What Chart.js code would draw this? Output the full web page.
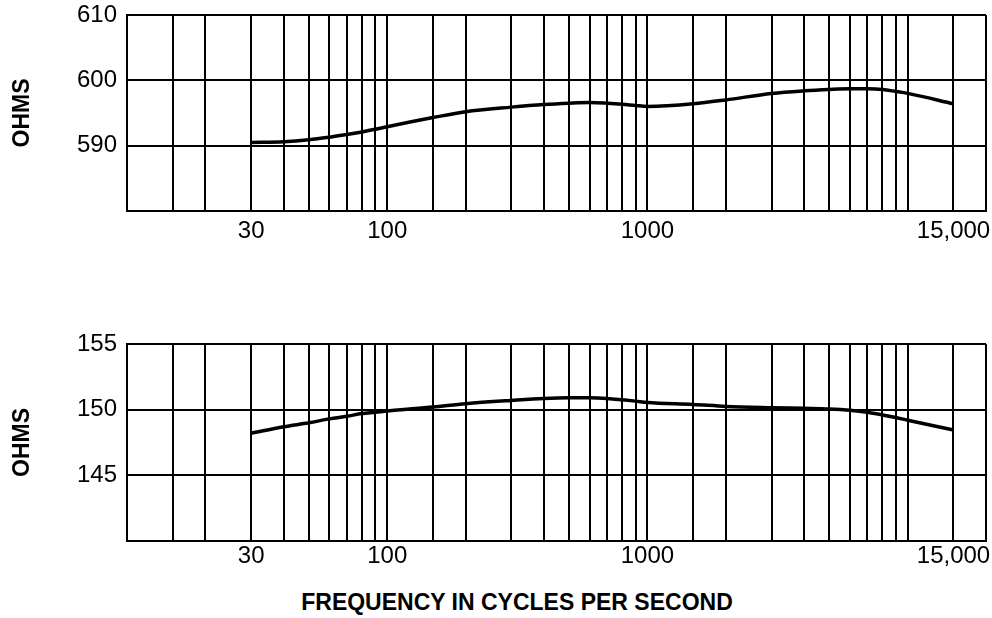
<!DOCTYPE html>
<html>
<head>
<meta charset="utf-8">
<title>Impedance vs frequency</title>
<script src="https://cdn.jsdelivr.net/npm/chart.js@4.4.1/dist/chart.umd.min.js"></script>
<style>
    html, body { margin: 0; padding: 0; background: #fff; }
    body { width: 992px; height: 618px; position: relative; overflow: hidden; }
    canvas { position: absolute; left: 0; }
    #topChart { top: -10px; }
    #bottomChart { top: 300px; }
    #xTitle {
        position: absolute; left: 217px; width: 600px; top: 590px;
        text-align: center; white-space: nowrap;
        font: bold 23px "Liberation Sans", Arial, sans-serif; line-height: 24px;
        color: #000;
    }
</style>
</head>
<body>
<canvas id="topChart" width="992" height="260"></canvas>
<canvas id="bottomChart" width="992" height="280"></canvas>
<div id="xTitle">FREQUENCY IN CYCLES PER SECOND</div>
<script>
// measured frequencies (cycles per second)
const freqs = [30, 40, 50, 60, 70, 80, 90, 100, 150, 200, 300, 400, 500, 600, 700, 800, 900,
               1000, 1500, 2000, 3000, 4000, 5000, 6000, 7000, 8000, 9000, 10000, 15000];

// 600 ohm winding
const ohms600 = [590.5, 590.6, 590.9, 591.3, 591.7, 592.1, 592.5, 592.9, 594.3, 595.2, 595.9, 596.3, 596.5, 596.6, 596.5, 596.35, 596.15,
                 596.0, 596.4, 597.0, 598.0, 598.4, 598.6, 598.7, 598.7, 598.6, 598.3, 598.0, 596.4];

// 150 ohm winding
const ohms150 = [148.2, 148.7, 149.0, 149.3, 149.5, 149.7, 149.8, 149.9, 150.2, 150.45, 150.7, 150.85, 150.9, 150.9, 150.85, 150.75, 150.65,
                 150.55, 150.4, 150.25, 150.15, 150.1, 150.05, 149.95, 149.8, 149.6, 149.4, 149.2, 148.45];

// log paper grid lines and the few labelled ones
const freqGrid = [10, 15, 20, 30, 40, 50, 60, 70, 80, 90, 100, 150, 200, 300, 400, 500, 600, 700, 800, 900,
                  1000, 1500, 2000, 3000, 4000, 5000, 6000, 7000, 8000, 9000, 10000, 15000, 20000];
const freqLabels = { 30: '30', 100: '100', 1000: '1000', 15000: '15,000' };

const topRange = { min: 580, max: 610, step: 10 };
const bottomRange = { min: 140, max: 155, step: 5 };

const FONT = '"Liberation Sans", Arial, sans-serif';

function makeChart(canvasId, values, range, opts) {
    const ctx = document.getElementById(canvasId).getContext('2d');
    return new Chart(ctx, {
        type: 'line',
        data: {
            datasets: [{
                data: freqs.map((f, i) => ({ x: f, y: values[i] })),
                borderColor: '#000',
                borderWidth: 3.5,
                pointRadius: 0,
                cubicInterpolationMode: 'monotone',
                fill: false
            }]
        },
        options: {
            responsive: false,
            animation: false,
            devicePixelRatio: 1,
            layout: { padding: { top: opts.padTop, right: 6, left: 0, bottom: 0 } },
            plugins: { legend: { display: false }, tooltip: { enabled: false } },
            scales: {
                x: {
                    type: 'logarithmic',
                    min: 10,
                    max: 20000,
                    afterBuildTicks: (scale) => {
                        scale.ticks = freqGrid.map(v => ({ value: v }));
                    },
                    afterFit: (scale) => { scale.height = opts.xHeight; },
                    ticks: {
                        autoSkip: false,
                        maxRotation: 0,
                        padding: opts.xPad,
                        color: '#000',
                        font: { family: FONT, size: 24 },
                        callback: (value) => freqLabels[value] || ''
                    },
                    grid: { color: '#000', lineWidth: 2, drawTicks: false },
                    border: { color: '#000', width: 2 }
                },
                y: {
                    min: range.min,
                    max: range.max,
                    afterFit: (scale) => { scale.width = 127; },
                    ticks: {
                        stepSize: range.step,
                        padding: 10,
                        color: '#000',
                        font: { family: FONT, size: 24 },
                        callback: (value) => value === range.min ? '' : value
                    },
                    grid: { color: '#000', lineWidth: 2, drawTicks: false },
                    border: { color: '#000', width: 2 },
                    title: {
                        display: true,
                        text: 'OHMS',
                        color: '#000',
                        font: { family: FONT, size: 23, weight: 'bold' },
                        padding: { top: 9, bottom: 0 }
                    }
                }
            }
        }
    });
}

document.addEventListener('DOMContentLoaded', () => {
    makeChart('topChart', ohms600, topRange, { padTop: 25, xHeight: 39, xPad: 6 });
    makeChart('bottomChart', ohms150, bottomRange, { padTop: 44, xHeight: 39, xPad: 1 });
});
</script>
</body>
</html>
